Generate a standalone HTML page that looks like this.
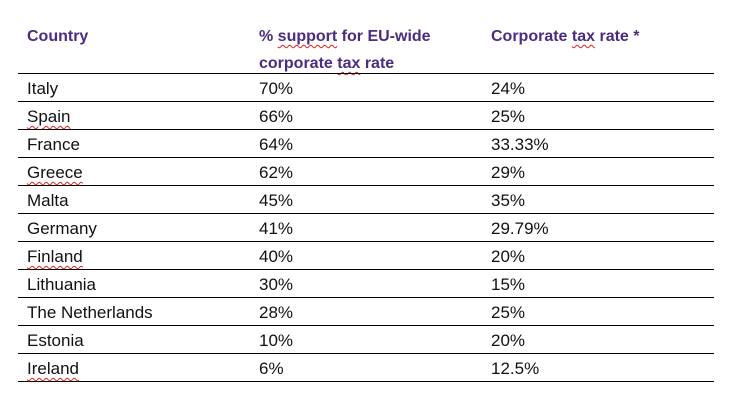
<html><head><style>
body{margin:0;width:729px;height:402px;background:#fff;font-family:"Liberation Sans",sans-serif;position:relative;overflow:hidden}
.h{position:absolute;color:#4a2c83;font-weight:bold;font-size:16px;line-height:27px}
.r{position:absolute;left:18px;width:696px;height:28px;border-bottom:1px solid #000;box-sizing:border-box;font-size:17px;color:#111}
.r span{position:absolute;top:5px}
.u{text-decoration:underline wavy #e02020;text-decoration-thickness:1px;text-underline-offset:3px}
</style></head><body>
<div class="h" style="left:27px;top:23px">Country</div>
<div class="h" style="left:259px;top:23px">% <span class="u">support</span> for EU-wide<br>corporate <span class="u">tax</span> rate</div>
<div class="h" style="left:491px;top:23px">Corporate <span class="u">tax</span> rate *</div>
<div style="position:absolute;left:18px;top:73px;width:696px;border-top:1px solid #000"></div>
<div class="r" style="top:74px"><span style="left:9px">Italy</span><span style="left:241px">70%</span><span style="left:473px">24%</span></div>
<div class="r" style="top:102px"><span style="left:9px" class="u">Spain</span><span style="left:241px">66%</span><span style="left:473px">25%</span></div>
<div class="r" style="top:130px"><span style="left:9px">France</span><span style="left:241px">64%</span><span style="left:473px">33.33%</span></div>
<div class="r" style="top:158px"><span style="left:9px" class="u">Greece</span><span style="left:241px">62%</span><span style="left:473px">29%</span></div>
<div class="r" style="top:186px"><span style="left:9px">Malta</span><span style="left:241px">45%</span><span style="left:473px">35%</span></div>
<div class="r" style="top:214px"><span style="left:9px">Germany</span><span style="left:241px">41%</span><span style="left:473px">29.79%</span></div>
<div class="r" style="top:242px"><span style="left:9px" class="u">Finland</span><span style="left:241px">40%</span><span style="left:473px">20%</span></div>
<div class="r" style="top:270px"><span style="left:9px">Lithuania</span><span style="left:241px">30%</span><span style="left:473px">15%</span></div>
<div class="r" style="top:298px"><span style="left:9px">The Netherlands</span><span style="left:241px">28%</span><span style="left:473px">25%</span></div>
<div class="r" style="top:326px"><span style="left:9px">Estonia</span><span style="left:241px">10%</span><span style="left:473px">20%</span></div>
<div class="r" style="top:354px"><span style="left:9px" class="u">Ireland</span><span style="left:241px">6%</span><span style="left:473px">12.5%</span></div>
</body></html>
